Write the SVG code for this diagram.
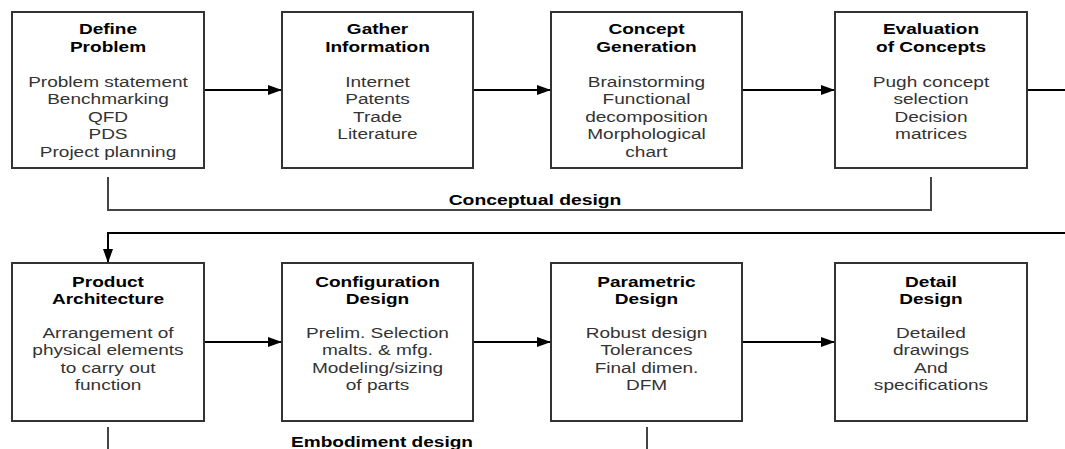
<svg xmlns="http://www.w3.org/2000/svg" width="1065" height="449" viewBox="0 0 1065 449">
<defs>
<style>
.box{fill:#fff;stroke:#333;stroke-width:2}
.t{font-family:"Liberation Sans",Arial,sans-serif;font-size:14px;text-anchor:middle;font-weight:bold;fill:#000}
.b{font-family:"Liberation Sans",Arial,sans-serif;font-size:14px;text-anchor:middle;fill:#333}
.lbl{font-family:"Liberation Sans",Arial,sans-serif;font-size:14px;text-anchor:middle;font-weight:bold;fill:#000}
.ar{fill:none;stroke:#000;stroke-width:2}
.br{fill:none;stroke:#444;stroke-width:2}
</style>
<marker id="ah" viewBox="0 0 14 10" refX="14" refY="5" markerWidth="14" markerHeight="10" markerUnits="userSpaceOnUse" orient="auto">
<path d="M0,0 L14,5 L0,10 Z" fill="#000"/>
</marker>
</defs>
<rect width="1065" height="449" fill="#fff"/>

<g id="connectors">
<line class="ar" x1="204" y1="90" x2="282" y2="90" marker-end="url(#ah)"/>
<line class="ar" x1="473" y1="90" x2="551" y2="90" marker-end="url(#ah)"/>
<line class="ar" x1="742" y1="90" x2="835" y2="90" marker-end="url(#ah)"/>
<line class="ar" x1="1027" y1="90" x2="1065" y2="90"/>
<polyline class="ar" points="1065,233 108,233 108,263" marker-end="url(#ah)"/>
<line class="ar" x1="204" y1="342" x2="282" y2="342" marker-end="url(#ah)"/>
<line class="ar" x1="473" y1="342" x2="551" y2="342" marker-end="url(#ah)"/>
<line class="ar" x1="742" y1="342" x2="835" y2="342" marker-end="url(#ah)"/>
<polyline class="br" points="108,177 108,210 931,210 931,177"/>
<line class="br" x1="108" y1="427" x2="108" y2="449"/>
<line class="br" x1="647" y1="427" x2="647" y2="449"/>
</g>

<g id="label-conceptual">
<g transform="translate(535 0) scale(1.38 1)"><text class="lbl" x="0" y="205">Conceptual design</text></g>
</g>
<g id="label-embodiment">
<g transform="translate(382 0) scale(1.36 1)"><text class="lbl" x="0" y="447">Embodiment design</text></g>
</g>

<g id="define-problem">
<rect class="box" x="12" y="12" width="192" height="156"/>
<g transform="translate(108 0) scale(1.36 1)">
<text class="t" x="0" y="34.3">Define</text>
<text class="t" x="0" y="52">Problem</text>
<text class="b" x="0" y="87">Problem statement</text>
<text class="b" x="0" y="104.5">Benchmarking</text>
<text class="b" x="0" y="122">QFD</text>
<text class="b" x="0" y="139.5">PDS</text>
<text class="b" x="0" y="157">Project planning</text>
</g>
</g>

<g id="gather-information">
<rect class="box" x="282" y="12" width="191" height="156"/>
<g transform="translate(377.5 0) scale(1.36 1)">
<text class="t" x="0" y="34.3">Gather</text>
<text class="t" x="0" y="52">Information</text>
<text class="b" x="0" y="87">Internet</text>
<text class="b" x="0" y="104.5">Patents</text>
<text class="b" x="0" y="122">Trade</text>
<text class="b" x="0" y="139.5">Literature</text>
</g>
</g>

<g id="concept-generation">
<rect class="box" x="551" y="12" width="191" height="156"/>
<g transform="translate(646.5 0) scale(1.36 1)">
<text class="t" x="0" y="34.3">Concept</text>
<text class="t" x="0" y="52">Generation</text>
<text class="b" x="0" y="87">Brainstorming</text>
<text class="b" x="0" y="104.5">Functional</text>
<text class="b" x="0" y="122">decomposition</text>
<text class="b" x="0" y="139.5">Morphological</text>
<text class="b" x="0" y="157">chart</text>
</g>
</g>

<g id="evaluation-of-concepts">
<rect class="box" x="835" y="12" width="192" height="156"/>
<g transform="translate(931 0) scale(1.36 1)">
<text class="t" x="0" y="34.3">Evaluation</text>
<text class="t" x="0" y="52">of Concepts</text>
<text class="b" x="0" y="87">Pugh concept</text>
<text class="b" x="0" y="104.5">selection</text>
<text class="b" x="0" y="122">Decision</text>
<text class="b" x="0" y="139.5">matrices</text>
</g>
</g>

<g id="product-architecture">
<rect class="box" x="12" y="263" width="192" height="158"/>
<g transform="translate(108 0) scale(1.36 1)">
<text class="t" x="0" y="286.7">Product</text>
<text class="t" x="0" y="304">Architecture</text>
<text class="b" x="0" y="338">Arrangement of</text>
<text class="b" x="0" y="355.5">physical elements</text>
<text class="b" x="0" y="373">to carry out</text>
<text class="b" x="0" y="390.5">function</text>
</g>
</g>

<g id="configuration-design">
<rect class="box" x="282" y="263" width="191" height="158"/>
<g transform="translate(377.5 0) scale(1.36 1)">
<text class="t" x="0" y="286.7">Configuration</text>
<text class="t" x="0" y="304">Design</text>
<text class="b" x="0" y="338">Prelim. Selection</text>
<text class="b" x="0" y="355.5">malts. &amp; mfg.</text>
<text class="b" x="0" y="373">Modeling/sizing</text>
<text class="b" x="0" y="390.5">of parts</text>
</g>
</g>

<g id="parametric-design">
<rect class="box" x="551" y="263" width="191" height="158"/>
<g transform="translate(646.5 0) scale(1.36 1)">
<text class="t" x="0" y="286.7">Parametric</text>
<text class="t" x="0" y="304">Design</text>
<text class="b" x="0" y="338">Robust design</text>
<text class="b" x="0" y="355.5">Tolerances</text>
<text class="b" x="0" y="373">Final dimen.</text>
<text class="b" x="0" y="390.5">DFM</text>
</g>
</g>

<g id="detail-design">
<rect class="box" x="835" y="263" width="192" height="158"/>
<g transform="translate(931 0) scale(1.36 1)">
<text class="t" x="0" y="286.7">Detail</text>
<text class="t" x="0" y="304">Design</text>
<text class="b" x="0" y="338">Detailed</text>
<text class="b" x="0" y="355.5">drawings</text>
<text class="b" x="0" y="373">And</text>
<text class="b" x="0" y="390.5">specifications</text>
</g>
</g>
</svg>
